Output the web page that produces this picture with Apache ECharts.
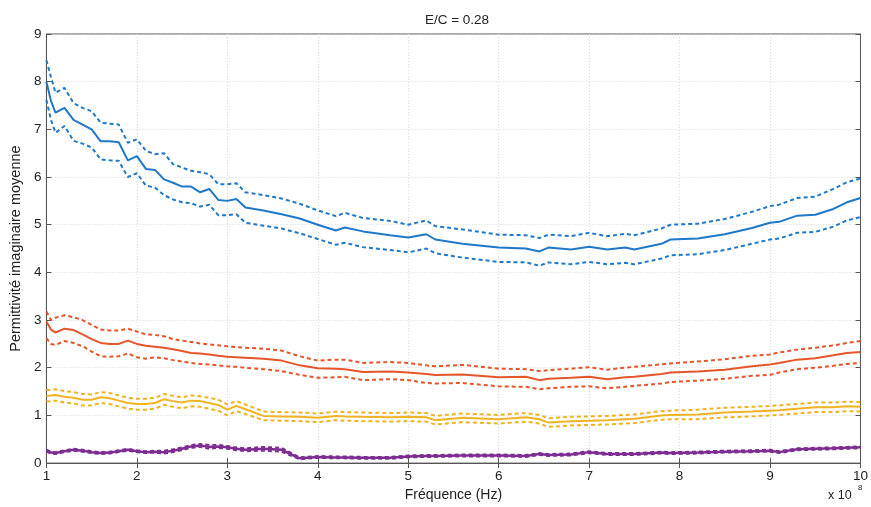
<!DOCTYPE html>
<html>
<head>
<meta charset="utf-8">
<script src="https://cdn.jsdelivr.net/npm/echarts@6/dist/echarts.min.js"></script>
<style>html,body{margin:0;padding:0;background:#fff}#c{width:871px;height:507px}</style>
</head>
<body>
<div id="c"></div>
<script>
// Frequency in units of 1e8 Hz
const freq = [1.0,1.05,1.1,1.2,1.3,1.4,1.5,1.6,1.7,1.8,1.9,2.0,2.1,2.2,2.3,2.4,2.5,2.6,2.7,2.8,2.9,3.0,3.1,3.2,3.4,3.6,3.8,4.0,4.2,4.3,4.5,4.8,5.0,5.2,5.3,5.6,6.0,6.3,6.45,6.55,6.8,7.0,7.2,7.4,7.5,7.8,7.9,8.2,8.5,8.8,9.0,9.1,9.3,9.5,9.7,9.85,10.0];
const xTicks = [1,2,3,4,5,6,7,8,9,10];
const yTicks = [0,1,2,3,4,5,6,7,8,9];

const blueMean  = [8.0,7.6,7.35,7.45,7.2,7.1,7.0,6.75,6.75,6.73,6.35,6.44,6.17,6.15,5.95,5.88,5.8,5.8,5.68,5.75,5.52,5.5,5.54,5.36,5.3,5.22,5.13,5.0,4.88,4.94,4.86,4.78,4.73,4.8,4.69,4.6,4.52,4.5,4.44,4.52,4.48,4.54,4.48,4.52,4.48,4.6,4.69,4.71,4.8,4.93,5.04,5.06,5.19,5.21,5.33,5.47,5.56];
const blueUpper = [8.45,8.1,7.77,7.87,7.55,7.45,7.38,7.14,7.12,7.1,6.72,6.79,6.55,6.48,6.5,6.27,6.2,6.13,6.1,6.06,5.85,5.85,5.87,5.68,5.62,5.55,5.44,5.3,5.18,5.25,5.14,5.08,5.0,5.09,4.97,4.9,4.79,4.78,4.72,4.79,4.76,4.83,4.76,4.81,4.78,4.92,5.0,5.02,5.12,5.27,5.39,5.42,5.56,5.59,5.75,5.89,5.97];
const blueLower = [7.62,7.2,6.93,7.07,6.76,6.7,6.62,6.37,6.35,6.34,6.0,6.08,5.82,5.78,5.62,5.53,5.47,5.45,5.38,5.42,5.2,5.2,5.22,5.04,4.98,4.92,4.82,4.7,4.58,4.62,4.53,4.47,4.42,4.5,4.4,4.31,4.22,4.21,4.14,4.21,4.17,4.22,4.17,4.2,4.17,4.29,4.36,4.38,4.47,4.6,4.69,4.71,4.83,4.85,4.96,5.09,5.16];

const orangeMean  = [2.97,2.8,2.74,2.82,2.79,2.7,2.6,2.52,2.5,2.5,2.57,2.5,2.46,2.44,2.42,2.39,2.35,2.31,2.3,2.28,2.25,2.23,2.22,2.21,2.19,2.15,2.05,1.99,1.98,1.97,1.91,1.92,1.9,1.87,1.85,1.86,1.8,1.81,1.74,1.77,1.79,1.81,1.76,1.8,1.81,1.87,1.9,1.92,1.96,2.03,2.07,2.1,2.17,2.2,2.26,2.31,2.33];
const orangeUpper = [3.18,3.0,3.05,3.1,3.06,3.0,2.9,2.8,2.78,2.78,2.82,2.76,2.7,2.69,2.66,2.6,2.57,2.54,2.51,2.49,2.47,2.45,2.43,2.42,2.4,2.36,2.24,2.15,2.17,2.17,2.1,2.12,2.1,2.05,2.03,2.06,1.98,1.97,1.93,1.95,1.98,2.01,1.96,2.0,2.02,2.07,2.09,2.13,2.18,2.25,2.28,2.32,2.38,2.42,2.47,2.52,2.56];
const orangeLower = [2.62,2.5,2.48,2.56,2.52,2.45,2.34,2.24,2.23,2.24,2.3,2.22,2.19,2.22,2.2,2.16,2.13,2.1,2.08,2.07,2.05,2.03,2.02,2.0,1.97,1.93,1.85,1.79,1.8,1.81,1.74,1.76,1.74,1.68,1.67,1.68,1.61,1.6,1.55,1.57,1.6,1.61,1.57,1.6,1.62,1.67,1.7,1.73,1.77,1.83,1.85,1.9,1.97,2.0,2.04,2.08,2.1];

const yellowMean  = [1.41,1.42,1.43,1.39,1.37,1.33,1.33,1.38,1.36,1.31,1.26,1.24,1.24,1.26,1.34,1.3,1.27,1.31,1.3,1.26,1.22,1.12,1.2,1.13,0.99,0.98,0.97,0.95,0.99,0.98,0.97,0.96,0.97,0.96,0.9,0.95,0.92,0.96,0.92,0.85,0.88,0.89,0.9,0.92,0.93,1.0,1.01,1.02,1.06,1.08,1.1,1.11,1.14,1.17,1.17,1.19,1.18];
const yellowUpper = [1.53,1.54,1.55,1.51,1.49,1.45,1.44,1.49,1.47,1.42,1.37,1.35,1.35,1.37,1.45,1.41,1.38,1.42,1.4,1.37,1.33,1.23,1.3,1.23,1.08,1.07,1.06,1.04,1.08,1.07,1.06,1.05,1.06,1.05,0.99,1.04,1.01,1.05,1.01,0.94,0.97,0.98,0.99,1.01,1.02,1.09,1.1,1.12,1.16,1.18,1.2,1.21,1.24,1.27,1.27,1.29,1.28];
const yellowLower = [1.29,1.3,1.31,1.27,1.25,1.21,1.21,1.26,1.24,1.19,1.14,1.12,1.12,1.14,1.22,1.18,1.15,1.19,1.18,1.14,1.1,1.0,1.09,1.03,0.9,0.89,0.88,0.86,0.9,0.89,0.88,0.87,0.88,0.87,0.81,0.86,0.83,0.87,0.83,0.76,0.79,0.8,0.81,0.83,0.84,0.91,0.92,0.92,0.96,0.98,1.0,1.01,1.04,1.07,1.07,1.09,1.08];

const purpleMean  = [0.26,0.22,0.21,0.25,0.28,0.26,0.23,0.21,0.22,0.25,0.28,0.25,0.23,0.24,0.23,0.26,0.3,0.35,0.37,0.34,0.35,0.33,0.3,0.28,0.3,0.28,0.1,0.13,0.12,0.12,0.11,0.11,0.14,0.15,0.15,0.16,0.16,0.15,0.19,0.17,0.18,0.23,0.19,0.19,0.19,0.22,0.21,0.22,0.24,0.25,0.26,0.23,0.29,0.3,0.31,0.32,0.33];
const purpleUpper = [0.28,0.24,0.23,0.27,0.3,0.28,0.25,0.23,0.24,0.27,0.3,0.27,0.25,0.26,0.26,0.29,0.33,0.38,0.4,0.38,0.38,0.36,0.33,0.31,0.34,0.32,0.12,0.15,0.14,0.14,0.13,0.13,0.16,0.17,0.17,0.18,0.18,0.17,0.21,0.19,0.2,0.25,0.21,0.21,0.21,0.24,0.23,0.24,0.26,0.27,0.28,0.25,0.31,0.32,0.33,0.34,0.35];
const purpleLower = [0.24,0.2,0.19,0.23,0.26,0.24,0.21,0.19,0.2,0.23,0.26,0.23,0.21,0.22,0.2,0.23,0.27,0.32,0.34,0.3,0.32,0.3,0.27,0.25,0.26,0.24,0.08,0.11,0.1,0.1,0.09,0.09,0.12,0.13,0.13,0.14,0.14,0.13,0.17,0.15,0.16,0.21,0.17,0.17,0.17,0.2,0.19,0.2,0.22,0.23,0.24,0.21,0.27,0.28,0.29,0.3,0.31];

const BLUE = '#1f78c8', ORANGE = '#e5552a', YELLOW = '#f0b323', PURPLE = '#7d2d91';
const FONT = 'Liberation Sans, Arial, sans-serif';

function pairs(ys){ return freq.map((x,i)=>[x, ys[i]]); }
function line(name, ys, color, dashed, width){
  return {
    name, type:'line', data: pairs(ys), showSymbol:false, symbol:'none', smooth:false,
    silent:true, animation:false,
    lineStyle:{color, width: width || 2, type: dashed ? [4,3] : 'solid'}
  };
}

const chart = echarts.init(document.getElementById('c'), null, {renderer:'canvas'});
const axisCommon = {
  axisLine:{show:true, lineStyle:{color:'#555', width:1}},
  axisTick:{show:true, inside:true, length:5, lineStyle:{color:'#555'}},
};
chart.setOption({
  animation:false,
  backgroundColor:'#fff',
  title:{text:'E/C = 0.28', left:452, top:8, textAlign:'center',
    textStyle:{fontFamily:FONT, fontSize:13.5, fontWeight:'normal', color:'#222'}},
  grid:{left:41, right:9, top:34, bottom:41, show:true, borderColor:'#555', borderWidth:1, containLabel:false},
  xAxis:[{
    type:'value', min:1, max:10, interval:1, position:'bottom',
    name:'Fréquence (Hz)', nameLocation:'middle', nameGap:17,
    nameTextStyle:{fontFamily:FONT, fontSize:14, color:'#222'},
    ...axisCommon,
    axisLabel:{fontFamily:FONT, fontSize:13.5, color:'#222', margin:6,
      formatter:(v)=> xTicks.includes(v) ? String(v) : ''},
    splitLine:{show:true, lineStyle:{color:'#d8d8d8', type:[1,2], width:1}}
  },{
    type:'value', min:1, max:10, interval:1, position:'top',
    ...axisCommon, axisLabel:{show:false}, splitLine:{show:false}
  }],
  yAxis:[{
    type:'value', min:0, max:9, interval:1, position:'left',
    name:'Permittivité imaginaire moyenne', nameLocation:'middle', nameGap:12,
    nameTextStyle:{fontFamily:FONT, fontSize:14.5, color:'#222'},
    ...axisCommon,
    axisLabel:{fontFamily:FONT, fontSize:13.5, color:'#222', margin:5,
      formatter:(v)=> yTicks.includes(v) ? String(v) : ''},
    splitLine:{show:true, lineStyle:{color:'#d8d8d8', type:[1,2], width:1}}
  },{
    type:'value', min:0, max:9, interval:1, position:'right',
    ...axisCommon, axisLabel:{show:false}, splitLine:{show:false}
  }],
  series:[
    line('blue mean', blueMean, BLUE, false, 2),
    line('blue upper', blueUpper, BLUE, true, 2),
    line('blue lower', blueLower, BLUE, true, 2),
    line('orange mean', orangeMean, ORANGE, false, 2),
    line('orange upper', orangeUpper, ORANGE, true, 2),
    line('orange lower', orangeLower, ORANGE, true, 2),
    line('yellow mean', yellowMean, YELLOW, false, 2),
    line('yellow upper', yellowUpper, YELLOW, true, 2),
    line('yellow lower', yellowLower, YELLOW, true, 2),
    line('purple upper', purpleUpper, PURPLE, true, 2),
    line('purple lower', purpleLower, PURPLE, true, 2),
    line('purple mean', purpleMean, PURPLE, false, 2.5)
  ],
  graphic:[
    {type:'text', left:828, top:489, style:{text:'x 10', fontFamily:FONT, fontSize:12.5, fill:'#222'}},
    {type:'text', left:858, top:484, style:{text:'8', fontFamily:FONT, fontSize:8, fill:'#222'}}
  ]
});
</script>
</body>
</html>
